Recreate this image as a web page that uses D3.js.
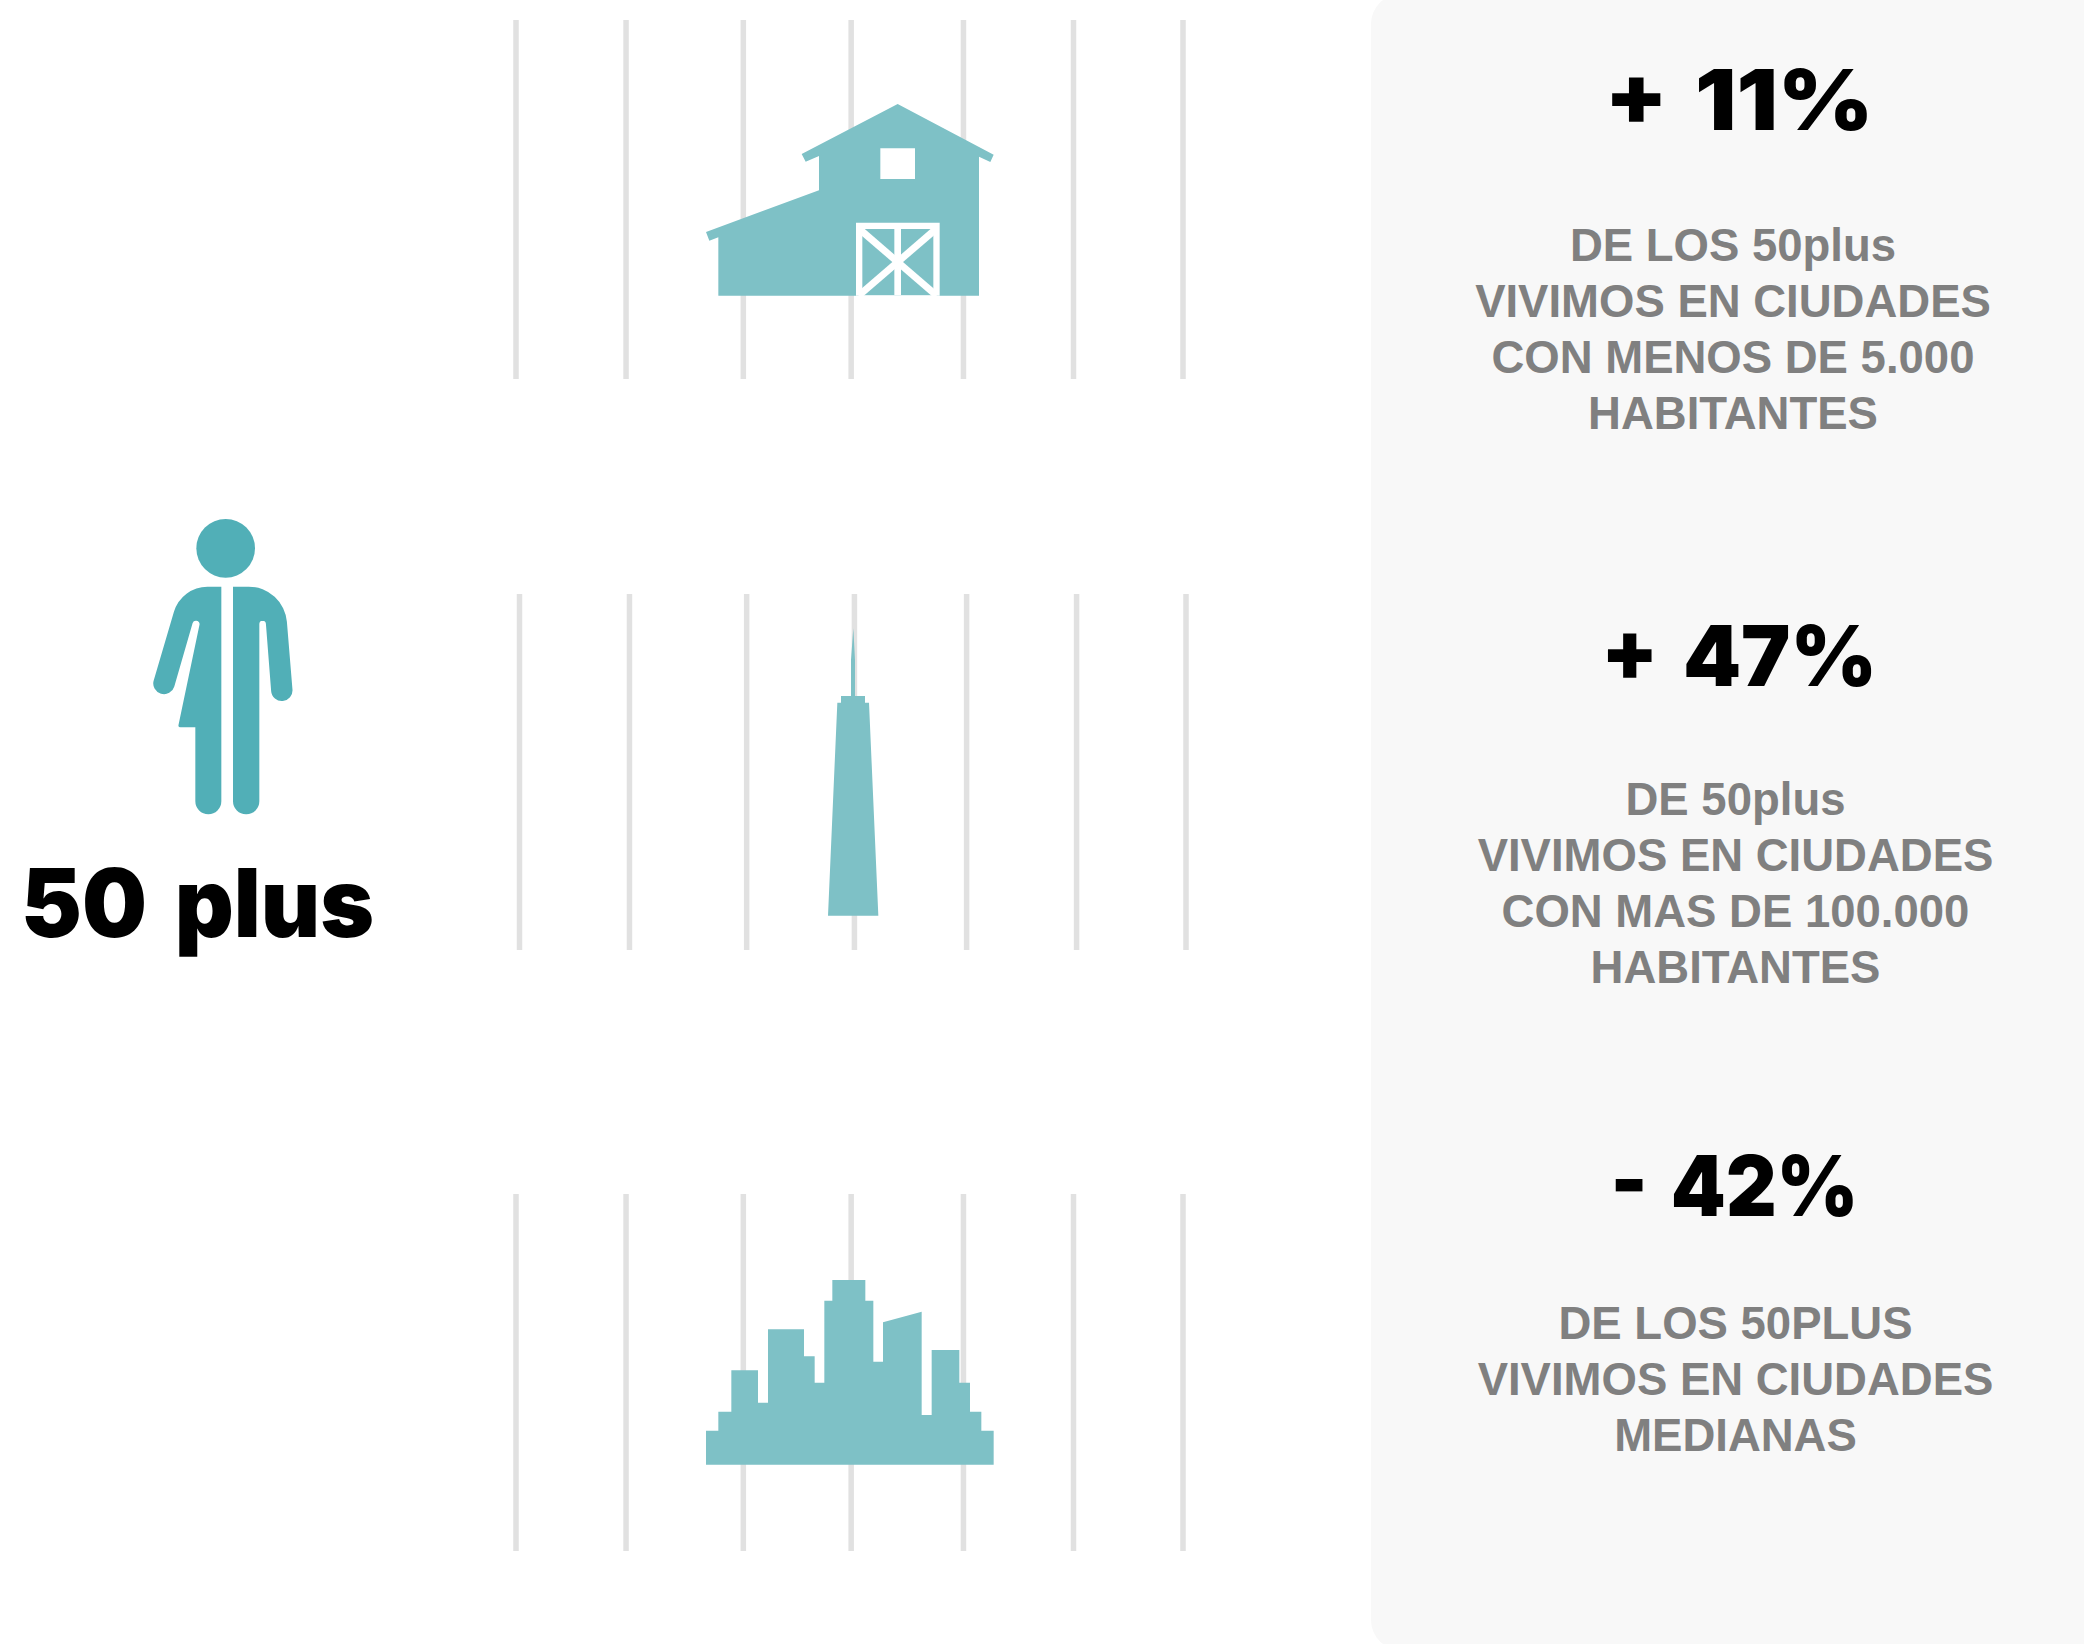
<!DOCTYPE html>
<html>
<head>
<meta charset="utf-8">
<script src="https://cdn.jsdelivr.net/npm/d3@7"></script>
<style>
  html, body { margin: 0; padding: 0; background: #fff; }
  svg { display: block; }
</style>
</head>
<body>
<div id="chart"></div>
<script>
// tick values on the seven vertical guide lines
var gridValues = [0, 0.99, 2.045, 3.015, 4.025, 5.015, 6];

var percentLabels = ["+ 11%", "+ 47%", "- 42%"];
var captions = [
  ["DE LOS 50plus", "VIVIMOS EN CIUDADES", "CON MENOS DE 5.000", "HABITANTES"],
  ["DE 50plus", "VIVIMOS EN CIUDADES", "CON MAS DE 100.000", "HABITANTES"],
  ["DE LOS 50PLUS", "VIVIMOS EN CIUDADES", "MEDIANAS"]
];
var personLabel = "50 plus";

// pictogram outlines, in their own 3x drawing units
var barnOutline = [[653,72],[941,224],[931,246],[897,230],[897,647],[115,647],[115,472],[88,482],[78,456],[417,331],[417,228],[377,245],[365,222]];
var barnWindow = [[601,205],[705,205],[705,297],[601,297]];
var barnDoor = [[528,428],[779,428],[779,647],[528,647]];
var barnPanelLeft = [[547,447],[643,447],[643,645],[547,645]];
var barnPanelRight = [[663,447],[760,447],[760,645],[663,645]];
var barnBraces = [[[538,447],[770,647]], [[768,447],[536,647]]];

var towerOutline = [[84,947],[112,308],[123,308],[123,288],[153,288],[153,180],[160,85],[165,180],[165,288],[195,288],[195,308],[207,308],[235,947]];

var skylineOutline = [[78,614],[78,512],[115,512],[115,455],[154,455],[154,331],[234,331],[234,428],[264,428],[264,208],[372,208],[372,289],[404,289],[404,368],[433,368],[433,122],[457,122],[457,60],[556,60],[556,122],[580,122],[580,305],[609,305],[609,187],[725,155],[725,465],[755,465],[755,270],[838,270],[838,368],[870,368],[870,455],[904,455],[904,512],[941,512],[941,614]];

// person: third number is the corner radius
var personHead = [287, 145, 88];
var personLeft = [[274,260,0],[274,943,39],[196,943,39],[196,682,0],[144,682,6],[211,362,10],[190,362,10],[124,590,32],[62,572,32],[154,260,105]];
var personRight = [[309,260,0],[309,943,39],[388,943,39],[388,362,10],[407,362,10],[426,606,32],[490,600,32],[462,260,115]];

var width = 2084, height = 1644;
var barnColor = "#7ec1c6", personColor = "#51afb7", gridColor = "#e1e1e1";

var svg = d3.select("#chart")
    .append("svg")
      .attr("width", width)
      .attr("height", height);

// grey panel on the right
svg.append("rect")
    .attr("x", 1371)
    .attr("y", -6)
    .attr("width", 800)
    .attr("height", height + 12)
    .attr("rx", 30)
    .attr("fill", "#f8f8f8");

// guide lines, one group per row
var rows = [
  {x: [516, 1183], y: [20, 379]},
  {x: [519.5, 1186], y: [594, 950]},
  {x: [516, 1183], y: [1194, 1551]}
];
rows.forEach(function(row) {
    var gx = d3.scaleLinear().domain([0, 6]).range(row.x);
    var axis = d3.axisBottom(gx)
        .tickValues(gridValues)
        .tickSize(row.y[1] - row.y[0])
        .offset(0)
        .tickFormat("");
    svg.append("g")
        .attr("transform", "translate(0," + row.y[0] + ")")
        .call(axis)
        .call(function(g) { g.select(".domain").remove(); })
        .call(function(g) {
            g.selectAll("line")
                .attr("stroke", gridColor)
                .attr("stroke-width", 5.5);
        });
});

// maps 3x drawing units to page position
function iconScale(left, top) {
    return {
        x: d3.scaleLinear().domain([0, 3]).range([left, left + 1]),
        y: d3.scaleLinear().domain([0, 3]).range([top, top + 1])
    };
}

function polygon(points, s, fill) {
    var line = d3.line()
        .x(function(d) { return s.x(d[0]); })
        .y(function(d) { return s.y(d[1]); });
    svg.append("path")
        .datum(points)
        .attr("d", line(points) + "Z")
        .attr("fill", fill);
}

// polygon with rounded corners, built with arcTo
function roundedPolygon(points, s, fill) {
    var n = points.length, p = d3.path();
    var last = points[n - 1], first = points[0];
    p.moveTo(s.x((last[0] + first[0]) / 2), s.y((last[1] + first[1]) / 2));
    points.forEach(function(d, i) {
        var next = points[(i + 1) % n];
        p.arcTo(s.x(d[0]), s.y(d[1]), s.x(next[0]), s.y(next[1]), d[2] / 3);
    });
    p.closePath();
    svg.append("path").attr("d", p.toString()).attr("fill", fill);
}

// barn
var barnScale = iconScale(680, 80);
polygon(barnOutline, barnScale, barnColor);
polygon(barnWindow, barnScale, "#fff");
polygon(barnDoor, barnScale, "#fff");
polygon(barnPanelLeft, barnScale, barnColor);
polygon(barnPanelRight, barnScale, barnColor);
svg.selectAll(".brace")
    .data(barnBraces)
    .enter().append("line")
      .attr("class", "brace")
      .attr("x1", function(d) { return barnScale.x(d[0][0]); })
      .attr("y1", function(d) { return barnScale.y(d[0][1]); })
      .attr("x2", function(d) { return barnScale.x(d[1][0]); })
      .attr("y2", function(d) { return barnScale.y(d[1][1]); })
      .attr("stroke", "#fff")
      .attr("stroke-width", 7);

// tower and skyline
polygon(towerOutline, iconScale(800, 600), barnColor);
polygon(skylineOutline, iconScale(680, 1260), barnColor);

// person
var personScale = iconScale(130, 500);
svg.append("circle")
    .attr("cx", personScale.x(personHead[0]))
    .attr("cy", personScale.y(personHead[1]))
    .attr("r", personHead[2] / 3)
    .attr("fill", personColor);
roundedPolygon(personLeft, personScale, personColor);
roundedPolygon(personRight, personScale, personColor);

svg.append("text")
    .attr("x", 197.5)
    .attr("y", 937)
    .attr("text-anchor", "middle")
    .attr("textLength", 353)
    .attr("lengthAdjust", "spacingAndGlyphs")
    .style("font-family", "Inter")
    .style("font-weight", 900)
    .style("font-size", "95px")
    .style("word-spacing", "10px")
    .attr("fill", "#000")
    .text(personLabel);

// right hand column
var percentPos = [{x: 1739, y: 130, w: 269}, {x: 1739, y: 686, w: 276}, {x: 1734.5, y: 1216, w: 248}];
svg.selectAll(".percent")
    .data(percentLabels)
    .enter().append("text")
      .attr("class", "percent")
      .attr("x", function(d, i) { return percentPos[i].x; })
      .attr("y", function(d, i) { return percentPos[i].y; })
      .attr("text-anchor", "middle")
      .attr("textLength", function(d, i) { return percentPos[i].w; })
      .attr("lengthAdjust", "spacingAndGlyphs")
      .style("font-family", "Inter")
      .style("font-weight", 900)
      .style("font-size", "84px")
      .style("word-spacing", "8px")
      .attr("fill", "#000")
      .text(function(d) { return d; });

var captionPos = [{x: 1733, y: 261}, {x: 1735.5, y: 815}, {x: 1735.5, y: 1339}];
captions.forEach(function(lines, i) {
    svg.append("g").selectAll("text")
        .data(lines)
        .enter().append("text")
          .attr("x", captionPos[i].x)
          .attr("y", function(d, j) { return captionPos[i].y + j * 56; })
          .attr("text-anchor", "middle")
          .style("font-family", "Liberation Sans")
          .style("font-weight", 700)
          .style("font-size", "45.5px")
          .attr("fill", "#808080")
          .text(function(d) { return d; });
});
</script>
</body>
</html>
